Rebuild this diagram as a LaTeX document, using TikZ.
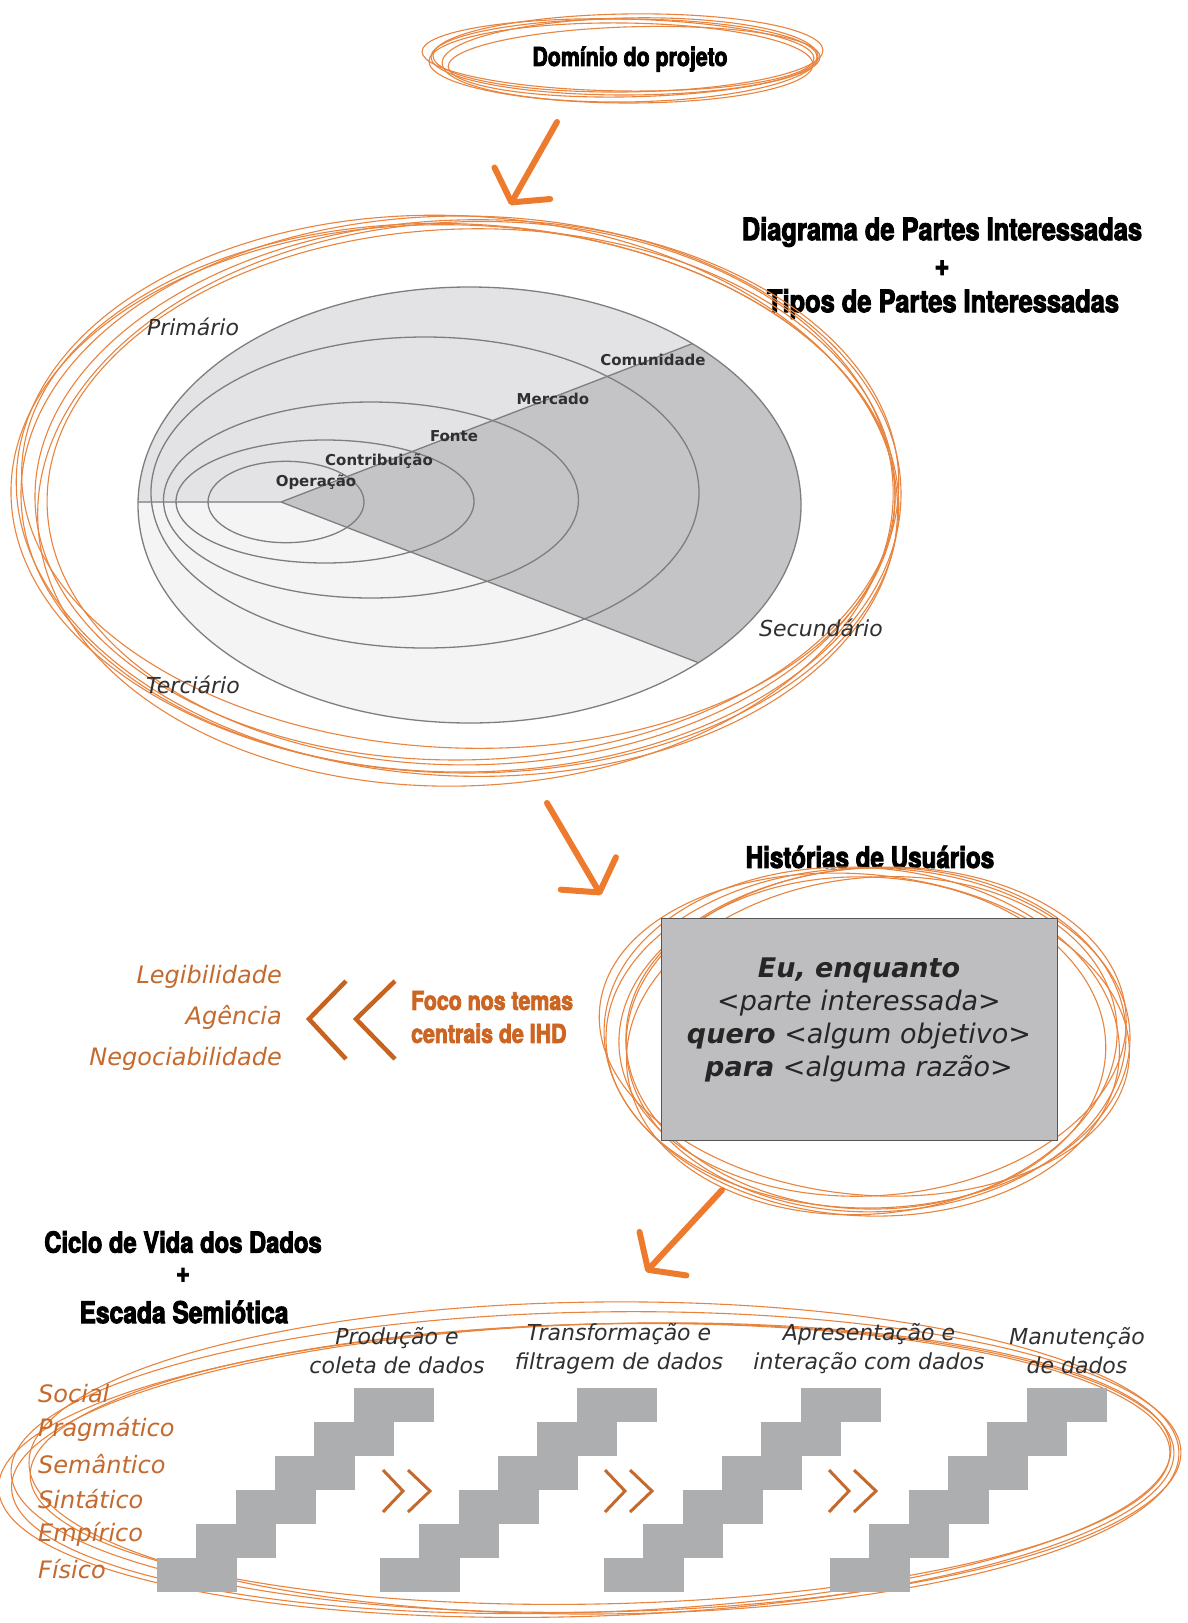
\documentclass[tikz,border=0pt]{standalone}
\usepackage{fontspec}
\setmainfont{DejaVu Sans}
\newfontfamily\headfont[FakeStretch=0.82,BoldFeatures={FakeBold=3}]{TeX Gyre Heros}
\usepackage{tikz}
\usetikzlibrary{arrows.meta,positioning}

\definecolor{looporange}{HTML}{E8843E}
\definecolor{arroworange}{HTML}{EE7A2E}
\definecolor{textorange}{HTML}{C46A2E}
\definecolor{chevorange}{HTML}{C8621F}
\definecolor{headorange}{HTML}{CC6422}
\definecolor{ringgrey}{HTML}{7E7E80}
\definecolor{primfill}{HTML}{E3E3E5}
\definecolor{tercfill}{HTML}{F4F4F4}
\definecolor{secfill}{HTML}{C4C4C6}
\definecolor{boxgrey}{HTML}{BEBEC0}
\definecolor{boxedge}{HTML}{555555}
\definecolor{stepgrey}{HTML}{ADAEB0}
\definecolor{labelgrey}{HTML}{303030}

\tikzset{
  sketchloop/.style={draw=looporange, line width=1.1pt},
  flowarrow/.style={draw=arroworange, line width=6pt, line cap=round,
    -{Straight Barb[length=22pt,width=64pt,round]}},
  heading/.style={font=\headfont\bfseries\fontsize{#1}{#1}\selectfont, text=black, inner sep=0pt},
  heading/.default=28,
  ringlabel/.style={font=\bfseries\fontsize{15}{15}\selectfont, text=labelgrey, inner sep=0pt},
  typelabel/.style={font=\itshape\fontsize{22}{22}\selectfont, text=labelgrey, inner sep=0pt},
  ringline/.style={draw=ringgrey, line width=1.3pt},
  semlabel/.style={font=\itshape\fontsize{24}{24}\selectfont, text=textorange, inner sep=0pt, anchor=west},
  phaselabel/.style={font=\itshape\fontsize{22}{29}\selectfont, text=labelgrey, align=center, inner sep=0pt},
  backchev/.style={draw=chevorange, line width=4.5pt},
  fwdchev/.style={draw=textorange, line width=3pt},
  storybox/.style={draw=boxedge, fill=boxgrey, line width=0.8pt,
    minimum width=396pt, minimum height=222pt, inner sep=0pt},
}

\begin{document}
\begin{tikzpicture}[x=1pt,y=-1pt]
  \useasboundingbox[fill=white] (0,0) rectangle (1188,1623);

  % Dominio do projeto
  \begin{scope}[shift={(624,57)}]
    \foreach \dx/\dy/\rx/\ry/\ang in {0/0/193/38/0, 6/3/188/42/1, -6/-2/196/36/-1,
        10/5/186/35/1.5, -3/6/192/40/-0.5, 4/-4/195/39/0.8} {
      \draw[sketchloop, rotate=\ang] (\dx,\dy) ellipse [x radius=\rx, y radius=\ry];
    }
  \end{scope}
  \node[heading=26] (dominio) at (630,59) {Domínio do projeto};

  \coordinate (a1s) at (557,122);
  \coordinate (a1e) at (510,205);
  \draw[flowarrow] (a1s) -- (a1e);

  % Partes interessadas
  \node[heading=31] (stakeA) at (942,232) {Diagrama de Partes Interessadas};
  \node[heading=31] (plusA) at (942,268) {+};
  \node[heading=31] (stakeB) at (943,304) {Tipos de Partes Interessadas};

  \begin{scope}[shift={(461,494)}]
    \foreach \dx/\dy/\rx/\ry/\ang in {0/0/440/278/0, 6/-4/432/270/1.5, -6/5/444/274/-1.5,
        4/10/428/282/2.5, -3/-8/437/262/-2.5, 10/3/424/268/1, -4/2/441/280/-3} {
      \draw[sketchloop, rotate=\ang] (\dx,\dy) ellipse [x radius=\rx, y radius=\ry];
    }
  \end{scope}

  \coordinate (apex) at (281,502);
  \fill[tercfill] (469.5,505) ellipse [x radius=331.5, y radius=218];
  \begin{scope}
    \clip (0,0) rectangle (1188,502);
    \fill[primfill] (469.5,505) ellipse [x radius=331.5, y radius=218];
  \end{scope}
  \begin{scope}
    \clip (apex) -- (1281,117) -- (1281,887) -- cycle;
    \fill[secfill] (469.5,505) ellipse [x radius=331.5, y radius=218];
  \end{scope}
  \foreach \cx/\cy/\rx/\ry in {286/502/78/40.7, 325/501.5/149/61.5,
      371/500/207.5/98, 425/492.5/274/155.5} {
    \draw[ringline] (\cx,\cy) ellipse [x radius=\rx, y radius=\ry];
  }
  \begin{scope}
    \clip (469.5,505) ellipse [x radius=331.5, y radius=218];
    \draw[ringline] (0,502) -- (apex) -- (1281,117);
    \draw[ringline] (apex) -- (1281,887);
  \end{scope}
  \draw[ringline] (469.5,505) ellipse [x radius=331.5, y radius=218];

  \node[ringlabel] (operacao) at (316,482) {Operação};
  \node[ringlabel] (contrib) at (379,461) {Contribuição};
  \node[ringlabel] (fonte) at (454,436) {Fonte};
  \node[ringlabel] (mercado) at (553,399) {Mercado};
  \node[ringlabel] (comunidade) at (653,360) {Comunidade};

  \node[typelabel] (primario) at (193,327) {Primário};
  \node[typelabel] (terciario) at (193,685) {Terciário};
  \node[typelabel] (secundario) at (821,628) {Secundário};

  \coordinate (a2s) at (547,803);
  \coordinate (a2e) at (601,895);
  \draw[flowarrow] (a2s) -- (a2e);

  % Historias de usuarios
  \node[heading=29.5] (historias) at (870,857) {Histórias de Usuários};

  \begin{scope}[shift={(868,1038)}]
    \foreach \dx/\dy/\rx/\ry/\ang in {0/0/262/170/0, 5/-6/254/164/4, -6/4/258/174/-4,
        3/8/246/168/6, -4/-3/266/160/-6, 8/2/250/172/2, -2/5/240/166/-2} {
      \draw[sketchloop, rotate=\ang] (\dx,\dy) ellipse [x radius=\rx, y radius=\ry];
    }
  \end{scope}
  \node[storybox] (story) at (859,1029) {};
  \node[font=\itshape\fontsize{27}{33}\selectfont, text=black!85, align=center]
    (storytext) at (859,1020)
    {{\bfseries Eu, enquanto}\\<parte interessada>\\{\bfseries quero} <algum objetivo>\\{\bfseries para} <alguma razão>};

  \draw[backchev] (395,981) -- (356,1019) -- (395,1059);
  \draw[backchev] (346,981) -- (309,1019) -- (346,1059);
  \node[font=\headfont\bfseries\fontsize{26}{33}\selectfont, text=headorange, align=left,
    anchor=west, inner sep=0pt] (foco) at (411,1017) {Foco nos temas\\centrais de IHD};
  \node[font=\itshape\fontsize{24}{41}\selectfont, text=textorange, align=right,
    anchor=east, inner sep=0pt] (temas) at (282,1018) {Legibilidade\\Agência\\Negociabilidade};

  \coordinate (a3s) at (722,1190);
  \coordinate (a3e) at (646,1272);
  \draw[flowarrow] (a3s) -- (a3e);

  % Ciclo de vida + escada semiotica
  \node[heading=29] (ciclo) at (183,1242) {Ciclo de Vida dos Dados};
  \node[heading=29] (plusB) at (183,1275) {+};
  \node[heading=30] (escada) at (184,1312) {Escada Semiótica};

  \begin{scope}[shift={(596,1462)}]
    \foreach \dx/\dy/\rx/\ry/\ang in {0/0/585/150/1, -5/6/580/144/2, 8/-4/575/156/0.5,
        -10/8/588/146/1.8, 4/2/570/140/1.2} {
      \draw[sketchloop, rotate=\ang] (\dx,\dy) ellipse [x radius=\rx, y radius=\ry];
    }
  \end{scope}

  \foreach \sx in {157,380,604,830} {
    \foreach \i in {0,...,5} {
      \fill[stepgrey] ({\sx+39.3*\i},{1592-34*\i}) rectangle ++(80,-34);
    }
  }
  \foreach \cx in {383,605,829} {
    \draw[fwdchev] (\cx,1470) -- ++(20,21) -- ++(-20,21);
    \draw[fwdchev] (\cx+25,1470) -- ++(22,21) -- ++(-22,21);
  }

  \foreach \lbl [count=\i from 0] in {Social,Pragmático,Semântico,Sintático,Empírico,Físico} {
    \node[semlabel] (sem\i) at (38,{1394+35*\i}) {\lbl};
  }

  \node[phaselabel] (producao) at (397,1351) {Produção e\\coleta de dados};
  \node[phaselabel] (transf) at (619,1349) {Transformação e\\filtragem de dados};
  \node[phaselabel] (apres) at (869,1349) {Apresentação e\\interação com dados};
  \node[phaselabel] (manut) at (1077,1351) {Manutenção\\de dados};
\end{tikzpicture}
\end{document}
